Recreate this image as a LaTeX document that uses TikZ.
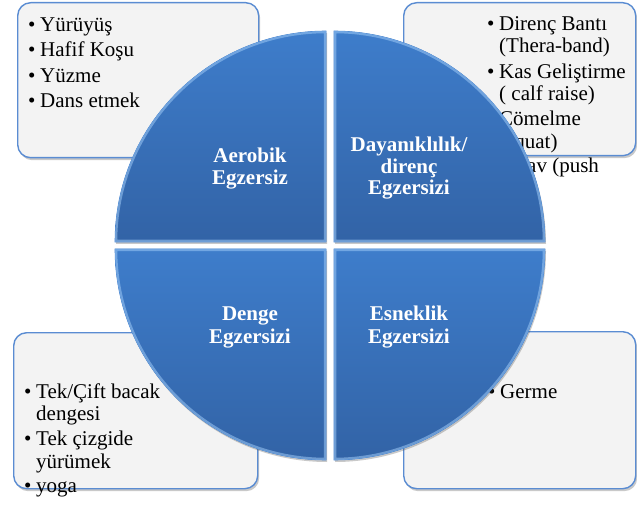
\documentclass[tikz,border=0pt]{standalone}
\usepackage{fontspec}
\setmainfont{Liberation Serif}
\usetikzlibrary{shadows}
\definecolor{boxblue}{HTML}{5A8CD2}
\definecolor{boxfill}{HTML}{F3F3F3}
\definecolor{qtop}{HTML}{3E7DCB}
\definecolor{qbot}{HTML}{3263A6}
\definecolor{qrim}{HTML}{9CC8F5}
\newcommand\lstbul{\makebox[12pt][l]{•}}
\tikzset{
  listbox/.style={draw=boxblue, line width=1.4pt, fill=boxfill, rounded corners=13pt,
    inner sep=0pt, anchor=north west,
    drop shadow={shadow xshift=1.5pt, shadow yshift=-2.5pt, opacity=0.3, fill=black!70}},
  item/.style={anchor=base west, inner sep=0pt, font=\fontsize{21}{24}\selectfont},
  qlabel/.style={anchor=base, inner sep=0pt, text=white, font=\fontsize{21}{24}\selectfont\bfseries},
  quadfill/.style={top color=qtop, bottom color=qbot, draw=qtop, line width=0.6pt,
    drop shadow={shadow xshift=1pt, shadow yshift=-2pt, opacity=0.3, fill=black!70}},
  bevel/.style={draw=qrim, opacity=0.55, line width=4.5pt}
}
\begin{document}
\begin{tikzpicture}[x=1pt, y=1pt]
\useasboundingbox (0,0) rectangle (637,504);
% list boxes
\node[listbox, minimum width=241pt, minimum height=155pt] (boxA) at (17,502) {};
\node[listbox, minimum width=232pt, minimum height=153pt] (boxB) at (403,502) {};
\node[listbox, minimum width=244pt, minimum height=156pt] (boxC) at (13,172) {};
\node[listbox, minimum width=232pt, minimum height=157pt] (boxD) at (403,173) {};
% top-left list
\node[item] (a1) at (28,472.5) {\lstbul Yürüyüş};
\node[item] (a2) at (28,447) {\lstbul Hafif Koşu};
\node[item] (a3) at (28,421) {\lstbul Yüzme};
\node[item] (a4) at (28,396) {\lstbul Dans etmek};
% top-right list
\node[item] (b1) at (487,473) {\lstbul Direnç Bantı};
\node[item] (b2) at (499,451) {(Thera-band)};
\node[item] (b3) at (487,425.5) {\lstbul Kas Geliştirme};
\node[item] (b4) at (499,403) {( calf raise)};
\node[item] (b5) at (487,378) {\lstbul Çömelme};
\node[item] (b6) at (499,355.5) {(squat)};
\node[item] (b7) at (487,331) {\lstbul Şınav (push};
% bottom-left list
\node[item] (c1) at (24,106) {\lstbul Tek/Çift bacak};
\node[item] (c2) at (36,84) {dengesi};
\node[item] (c3) at (24,59) {\lstbul Tek çizgide};
\node[item] (c4) at (36,36) {yürümek};
\node[item] (c5) at (24,12) {\lstbul yoga};
% bottom-right list
\node[item] (d1) at (488,106) {\lstbul Germe};
% quadrants
\foreach \cx/\cy/\a in {326/262/90, 334/262/0, 326/255/180, 334/255/270}{
  \path[quadfill] (\cx,\cy) -- ++(\a:211pt) arc[start angle=\a, delta angle=90, radius=211pt] -- cycle;
  \begin{scope}
    \clip (\cx,\cy) -- ++(\a:211pt) arc[start angle=\a, delta angle=90, radius=211pt] -- cycle;
    \draw[bevel] (\cx,\cy) -- ++(\a:211pt) arc[start angle=\a, delta angle=90, radius=211pt] -- cycle;
  \end{scope}
}
% quadrant labels
\node[qlabel] (q1a) at (250,341) {Aerobik};
\node[qlabel] (q1b) at (250,319) {Egzersiz};
\node[qlabel] (q2a) at (409,352) {Dayanıklılık/};
\node[qlabel] (q2b) at (409,330) {direnç};
\node[qlabel] (q2c) at (409,309) {Egzersizi};
\node[qlabel] (q3a) at (250,184) {Denge};
\node[qlabel] (q3b) at (250,161) {Egzersizi};
\node[qlabel] (q4a) at (409,184) {Esneklik};
\node[qlabel] (q4b) at (409,161) {Egzersizi};
\end{tikzpicture}
\end{document}
